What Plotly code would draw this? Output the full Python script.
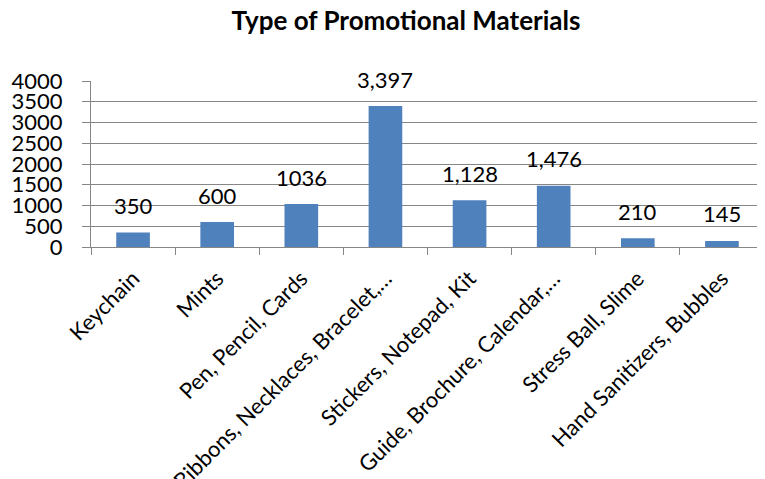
import plotly.graph_objects as go

categories = ["Keychain", "Mints", "Pen, Pencil, Cards", "Ribbons, Necklaces, Bracelet,…",
              "Stickers, Notepad, Kit", "Guide, Brochure, Calendar,…", "Stress Ball, Slime",
              "Hand Sanitizers, Bubbles"]
values = [350, 600, 1036, 3397, 1128, 1476, 210, 145]
value_labels = ["350", "600", "1036", "3,397", "1,128", "1,476", "210", "145"]
y_ticks = [0, 500, 1000, 1500, 2000, 2500, 3000, 3500, 4000]

FONT = "Lato"
GRID = "#868686"

fig = go.Figure()
fig.add_trace(go.Bar(x=categories, y=values, marker_color="#4F81BD",
                     marker_line_width=0, showlegend=False))

for c, v, t in zip(categories, values, value_labels):
    fig.add_annotation(x=c, y=v, text=t, showarrow=False, yanchor="middle",
                       yshift=27, font=dict(family=FONT, size=22, color="black"))

# page body has an 8px default margin, so the figure is 8px smaller
W, H = 757, 471
fig.update_layout(
    width=W, height=H,
    paper_bgcolor="white", plot_bgcolor="white",
    margin=dict(l=83, r=1, t=73, b=232, autoexpand=False),
    bargap=0.6,
    title=dict(text="<b>Type of Promotional Materials</b>", x=398 / W, xanchor="center",
               y=1 - 13 / H, yanchor="middle",
               font=dict(family=FONT, size=26, color="black")),
)
fig.update_yaxes(range=[0, 4000], tickvals=y_ticks, ticktext=[str(v) for v in y_ticks],
                 showgrid=True, gridcolor=GRID, gridwidth=1,
                 showline=True, linecolor=GRID, linewidth=1,
                 ticks="outside", ticklen=8, tickcolor=GRID,
                 tickfont=dict(family=FONT, size=22, color="black"),
                 ticklabelstandoff=15, zeroline=False, automargin=False)
fig.update_xaxes(type="category", tickangle=-45, tickson="boundaries",
                 showline=True, linecolor=GRID, linewidth=1,
                 ticks="outside", ticklen=7, tickcolor=GRID,
                 tickfont=dict(family=FONT, size=22, color="black"),
                 ticklabelstandoff=9, automargin=False, mirror=False)

fig.write_html("out.html")
